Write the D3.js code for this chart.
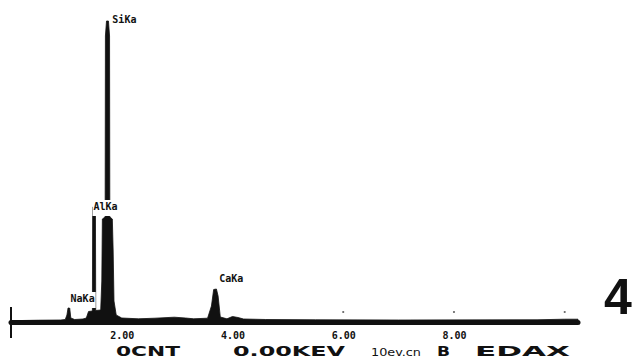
<!DOCTYPE html>
<html>
<head>
<meta charset="utf-8">
<script src="https://cdn.jsdelivr.net/npm/d3@7"></script>
<style>
  html, body { margin: 0; padding: 0; background: #fff; }
  svg { display: block; }
</style>
</head>
<body>
<svg id="chart" width="637" height="363"></svg>
<script>
// EDS spectrum: energy channel (keV) and counts
const energy = [0.00, 0.20, 0.50, 0.90, 0.98, 1.01, 1.03, 1.06, 1.08, 1.15, 1.30, 1.36, 1.40,
  1.470, 1.475, 1.505, 1.525, 1.530, 1.620, 1.640, 1.650, 1.700, 1.705, 1.725, 1.760, 1.780,
  1.785, 1.830, 1.845, 1.860, 1.900, 2.00, 2.30, 2.60, 2.95, 3.15, 3.30, 3.55, 3.62, 3.66,
  3.71, 3.74, 3.78, 3.90, 4.00, 4.10, 4.20, 4.60, 5.50, 7.00, 9.50, 10.00, 10.24];
const counts = [0, 5, 8, 10, 15, 60, 130, 130, 30, 15, 20, 30, 95,
  100, 1140, 1150, 1140, 105, 110, 400, 1020, 1040, 2850, 3000, 3000, 2850,
  1040, 1020, 700, 200, 60, 30, 22, 28, 38, 30, 22, 28, 150, 315,
  320, 250, 40, 22, 45, 35, 20, 15, 12, 10, 12, 18, 18];

// Peak identifications
const peakNames = ["NaKa", "AlKa", "SiKa", "CaKa"];
const peakEnergies = [1.04, 1.49, 1.74, 3.69];
const peakCounts = [130, 1150, 3000, 320];

// Energy axis labels and scale markers
const tickValues = [2, 4, 6, 8];
const markerValues = [6, 8, 10];

// Status line printed under the spectrum
const statusTexts = ["0CNT", "0.00KEV", "10ev.cn", "B", "EDAX"];

const svg = d3.select("#chart");
const ink = "#111";

const x = d3.scaleLinear().domain([0, 10.24]).range([11, 578]);
const y = d3.scaleLinear().domain([0, 3000]).range([321, 21]);

// Spectrum fill
const pts = energy.map((e, i) => [e, counts[i]]);
const area = d3.area().x(d => x(d[0])).y0(y(0)).y1(d => y(d[1]));
svg.append("path").datum(pts).attr("d", area).attr("fill", ink).attr("stroke", ink).attr("stroke-width", 0.8);

// Baseline
svg.append("line")
  .attr("x1", x(0)).attr("x2", x(10.24))
  .attr("y1", y(0) + 1.5).attr("y2", y(0) + 1.5)
  .attr("stroke", ink).attr("stroke-width", 5).attr("stroke-linecap", "round");

// Start-of-scale marker
svg.append("line")
  .attr("x1", x(0)).attr("x2", x(0))
  .attr("y1", y(0) - 14).attr("y2", y(0) + 17)
  .attr("stroke", ink).attr("stroke-width", 2);

// Small scale markers above the baseline
svg.selectAll("circle.mark").data(markerValues).enter().append("circle")
  .attr("class", "mark")
  .attr("cx", d => x(d)).attr("cy", y(0) - 9).attr("r", 1.1)
  .attr("fill", "#666");

// Energy tick labels
const axis = d3.axisBottom(x).tickValues(tickValues).tickFormat(d3.format(".2f"))
  .tickSize(0).tickPadding(0);
const ag = svg.append("g").attr("transform", `translate(0,${y(0) + 11})`).call(axis);
ag.select(".domain").remove();
ag.selectAll("text")
  .attr("font-family", "DejaVu Sans Mono, monospace")
  .attr("font-size", 10).attr("font-weight", "bold").attr("fill", ink);

// Peak labels (with paper-white backing that interrupts the trace)
const labelOffsets = { NaKa: [2, -6], AlKa: [0, 4], SiKa: [5, 2], CaKa: [4, -7] };
const lg = svg.append("g");
peakNames.forEach((name, i) => {
  const off = labelOffsets[name];
  const g = lg.append("g");
  const t = g.append("text")
    .attr("x", x(peakEnergies[i]) + off[0])
    .attr("y", y(peakCounts[i]) + off[1])
    .attr("font-family", "DejaVu Sans Mono, monospace")
    .attr("font-size", 10).attr("font-weight", "bold")
    .attr("fill", ink)
    .text(name);
  const bb = t.node().getBBox();
  g.insert("rect", "text")
    .attr("x", bb.x - 1).attr("y", bb.y - 1)
    .attr("width", bb.width + 2).attr("height", bb.height + 5)
    .attr("fill", "#fff");
});

// Status line
const statusLayout = [
  { x: 116, w: 64, size: 14, weight: "bold" },
  { x: 233, w: 112, size: 14, weight: "bold" },
  { x: 371, w: 50, size: 10, weight: "normal" },
  { x: 437, w: 13, size: 14, weight: "bold" },
  { x: 475, w: 95, size: 14, weight: "bold" }
];
statusTexts.forEach((s, i) => {
  const L = statusLayout[i];
  svg.append("text")
    .attr("x", L.x).attr("y", 356)
    .attr("font-family", "DejaVu Sans, sans-serif")
    .attr("font-size", L.size).attr("font-weight", L.weight)
    .attr("textLength", L.w).attr("lengthAdjust", "spacingAndGlyphs")
    .attr("fill", ink)
    .text(s);
});

// Panel number
svg.append("text")
  .attr("x", 604).attr("y", 314)
  .attr("font-family", "Liberation Sans, Arial, sans-serif")
  .attr("font-size", 50).attr("font-weight", "bold")
  .attr("fill", ink)
  .text("4");
</script>
</body>
</html>
